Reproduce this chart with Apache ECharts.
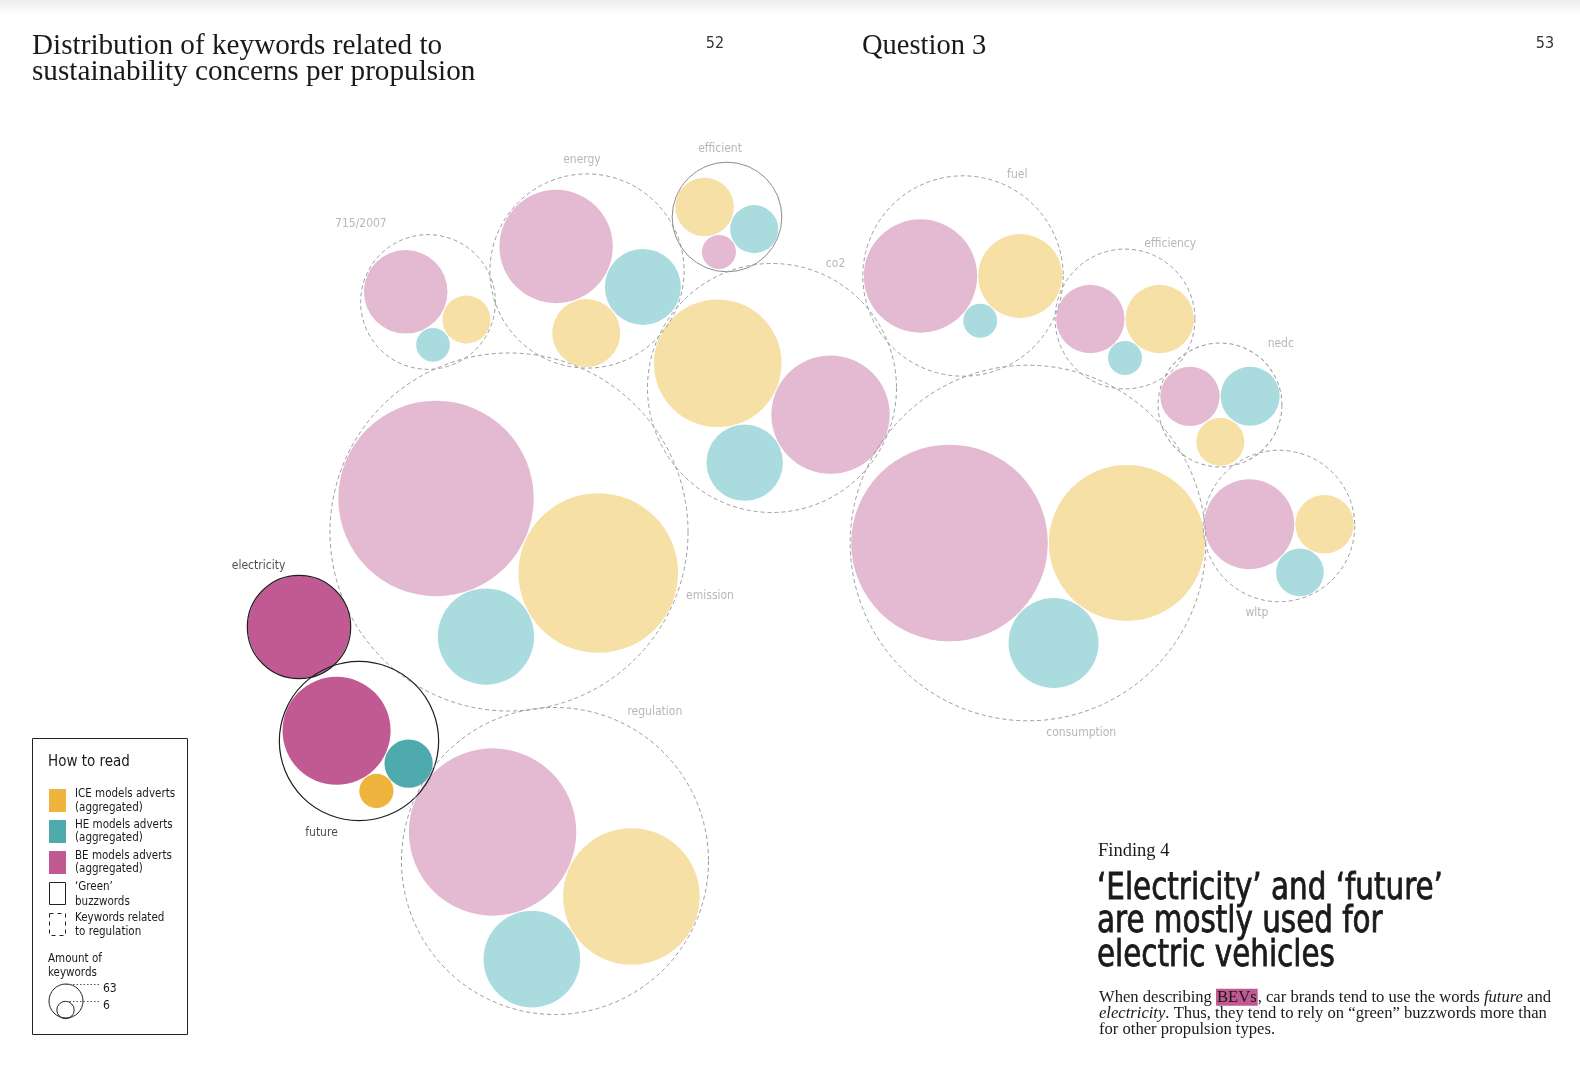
<!DOCTYPE html>
<html><head><meta charset="utf-8">
<script src="https://cdn.jsdelivr.net/npm/echarts/dist/echarts.min.js"></script>
<style>html,body{margin:0;padding:0;background:#fff}#c{width:1580px;height:1074px}</style>
</head><body><div id="c"></div>
<script>
// ---------------- DATA ----------------
const keywords = ['715/2007','energy','efficient','co2','fuel','efficiency','nedc','emission','consumption','wltp','electricity','future','regulation'];
const iceValues = [126, 252, 187, 888, 385, 255, 126, 1389, 1326, 186, 0, 64, 1017];
const heValues  = [62, 315, 126, 318, 63, 63, 190, 506, 441, 124, 0, 127, 509];
const beValues  = [381, 700, 63, 763, 700, 255, 192, 2081, 2107, 441, 571, 636, 1527];
const greenBuzzwords = ['efficient','electricity','future'];
const highlightedKeywords = ['electricity','future'];
const legendAmounts = ['63','6'];

// ---------------- LAYOUT (not data) ----------------
// [centerX, centerY, angle A->B (deg), side of third circle, label angle (deg), label gap]
const groupLayout = {
  '715/2007':  [428, 302, 24.6, 1, -130.5, 36],
  energy:      [587, 271, 70.8, -1, -92.6, 14],
  efficient:   [727, 217, -107.7, 1, -95.8, 14],
  co2:         [772, 388, -155.5, -1, -62.9, 15],
  fuel:        [963, 276, 0, 1, -61.9, 15],
  efficiency:  [1125, 319, 0, 1, -59, 18],
  nedc:        [1220, 405, 56.3, -1, -45, 24],
  emission:    [509, 532, 24.7, 1, 17.7, 32],
  consumption: [1028, 543, 0, 1, 74.3, 19],
  wltp:        [1279, 526, 0, 1, 104.3, 14],
  electricity: [299, 627, 0, 1, -123.3, 22],
  future:      [359, 741, 56.5, -1, 112.1, 20],
  regulation:  [555, 861, 24.9, 1, -56.2, 26]
};

const K = 17 / Math.sqrt(63);   // px per sqrt(keyword)
const PAD = 1;
const rOf = v => K * Math.sqrt(v);

const pastel = { be: '#e4bad3', ice: '#f7e0a6', he: '#aadcdf' };
const strong = { be: '#c15a93', ice: '#efb43e', he: '#4faaae' };

function enclose(kids) {
  let cx = 0, cy = 0;
  kids.forEach(k => { cx += k.x; cy += k.y; });
  cx /= kids.length; cy /= kids.length;
  if (kids.length === 1) return { x: kids[0].x, y: kids[0].y, r: kids[0].r };
  const T = 60000;
  for (let t = 1; t <= T; t++) {
    let best = null, bd = -1;
    for (const k of kids) {
      const d = Math.hypot(k.x - cx, k.y - cy) + k.r;
      if (d > bd) { bd = d; best = k; }
    }
    const dx = best.x - cx, dy = best.y - cy, L = Math.hypot(dx, dy) || 1;
    const px = best.x + best.r * dx / L, py = best.y + best.r * dy / L;
    cx += (px - cx) / (t + 1); cy += (py - cy) / (t + 1);
  }
  let R = 0;
  for (const k of kids) R = Math.max(R, Math.hypot(k.x - cx, k.y - cy) + k.r);
  return { x: cx, y: cy, r: R };
}

const groups = keywords.map((name, i) => {
  const L = groupLayout[name];
  const kids = [
    { k: 'be', v: beValues[i] },
    { k: 'ice', v: iceValues[i] },
    { k: 'he', v: heValues[i] }
  ].filter(d => d.v > 0);
  kids.forEach(d => { d.r = rOf(d.v); d.x = 0; d.y = 0; });
  if (kids[1]) kids[1].x = kids[0].r + kids[1].r + PAD;
  if (kids[2]) {
    const a = kids[0].r + kids[2].r + PAD, b = kids[1].r + kids[2].r + PAD, d = kids[1].x;
    const x = (a * a - b * b + d * d) / (2 * d);
    kids[2].x = x; kids[2].y = L[3] * Math.sqrt(Math.max(0, a * a - x * x));
  }
  const th = L[2] * Math.PI / 180, c = Math.cos(th), s = Math.sin(th);
  kids.forEach(d => { const x = d.x, y = d.y; d.x = x * c - y * s; d.y = x * s + y * c; });
  const e = enclose(kids);
  kids.forEach(d => { d.x = d.x - e.x + L[0]; d.y = d.y - e.y + L[1]; });
  const R = e.r + (kids.length > 1 ? 1 : 0.5);
  const la = L[4] * Math.PI / 180;
  return {
    name, kids, cx: L[0], cy: L[1], R,
    green: greenBuzzwords.includes(name),
    highlight: highlightedKeywords.includes(name),
    lx: L[0] + (R + L[5]) * Math.cos(la), ly: L[1] + (R + L[5]) * Math.sin(la)
  };
});

const NARROW = "'Liberation Sans Narrow','DejaVu Sans Condensed','Roboto Condensed',Roboto,sans-serif";
const SERIF = "'Liberation Serif','DejaVu Serif',serif";

function bubbleSeries(seriesName, key) {
  return {
    type: 'scatter', name: seriesName, silent: true, z: 2, symbol: 'circle',
    emphasis: { disabled: true },
    symbolSize: v => 2 * rOf(v[2]),
    data: groups.flatMap(g => g.kids.filter(c => c.k === key).map(c => ({
      name: g.name, value: [c.x, c.y, c.v],
      itemStyle: { color: g.highlight ? strong[key] : pastel[key], opacity: 1 }
    })))
  };
}

const option = {
  animation: false,
  backgroundColor: '#ffffff',
  grid: { left: 0, right: 0, top: 0, bottom: 0 },
  xAxis: { type: 'value', min: 0, max: 1580, show: false },
  yAxis: { type: 'value', min: 0, max: 1074, inverse: true, show: false },
  series: [
    bubbleSeries('BE models adverts', 'be'),
    bubbleSeries('ICE models adverts', 'ice'),
    bubbleSeries('HE models adverts', 'he'),
    {
      type: 'scatter', name: 'groups', silent: true, z: 3, symbol: 'circle',
      emphasis: { disabled: true },
      symbolSize: v => 2 * v[2],
      data: groups.map(g => ({
        name: g.name, value: [g.cx, g.cy, g.R],
        itemStyle: {
          color: 'rgba(0,0,0,0)', opacity: 1,
          borderColor: g.highlight ? '#1e1e1e' : (g.green ? '#8c8c8c' : '#9c9c9c'),
          borderWidth: g.highlight ? 1.2 : 1,
          borderType: g.green ? 'solid' : [4, 3]
        }
      }))
    },
    {
      type: 'scatter', name: 'labels', silent: true, z: 4, symbol: 'circle', symbolSize: 1,
      emphasis: { disabled: true },
      itemStyle: { color: 'rgba(0,0,0,0)' },
      data: groups.map(g => ({
        name: g.name, value: [g.lx, g.ly],
        label: {
          show: true, position: 'inside', formatter: '{b}',
          fontFamily: NARROW, fontSize: 12,
          color: g.highlight ? '#1e1e1e' : '#a5a5a5'
        }
      }))
    }
  ],
  graphic: [
    { type: 'rect', silent: true, shape: { x: 0, y: 0, width: 1580, height: 14 },
      style: { fill: new echarts.graphic.LinearGradient(0, 0, 0, 1, [
        { offset: 0, color: 'rgba(0,0,0,0.07)' }, { offset: 1, color: 'rgba(0,0,0,0)' }]) } },
    { type: 'text', x: 32, y: 33, silent: true,
      style: { text: 'Distribution of keywords related to\nsustainability concerns per propulsion',
        font: "29.2px " + SERIF, lineHeight: 26.5, fill: '#1a1a1a' } },
    { type: 'text', x: 715, y: 44, silent: true,
      style: { text: '52', font: "16px " + NARROW, fill: '#333', align: 'center', verticalAlign: 'middle' } },
    { type: 'text', x: 862, y: 47, silent: true,
      style: { text: 'Question 3', font: "28.5px " + SERIF, fill: '#1a1a1a', verticalAlign: 'middle' } },
    { type: 'text', x: 1545, y: 44, silent: true,
      style: { text: '53', font: "16px " + NARROW, fill: '#333', align: 'center', verticalAlign: 'middle' } },

    // how to read box
    { type: 'rect', silent: true, shape: { x: 32.5, y: 738.5, width: 155, height: 296 },
      style: { fill: '#fff', stroke: '#222', lineWidth: 1 } },
    { type: 'text', x: 48, y: 762, silent: true,
      style: { text: 'How to read', font: "15px " + NARROW, fill: '#1a1a1a', verticalAlign: 'middle' } },
    { type: 'rect', silent: true, shape: { x: 49, y: 789, width: 17, height: 23 }, style: { fill: strong.ice } },
    { type: 'rect', silent: true, shape: { x: 49, y: 820, width: 17, height: 23 }, style: { fill: strong.he } },
    { type: 'rect', silent: true, shape: { x: 49, y: 851, width: 17, height: 23 }, style: { fill: strong.be } },
    { type: 'rect', silent: true, shape: { x: 49.5, y: 882.5, width: 16, height: 22 }, style: { fill: '#fff', stroke: '#222', lineWidth: 1 } },
    { type: 'rect', silent: true, shape: { x: 49.5, y: 913.5, width: 16, height: 22 }, style: { fill: '#fff', stroke: '#222', lineWidth: 1, lineDash: [4, 4] } },
    { type: 'text', x: 75, y: 787, silent: true,
      style: { text: 'ICE models adverts\n(aggregated)', font: "11.5px " + NARROW, lineHeight: 14, fill: '#1a1a1a' } },
    { type: 'text', x: 75, y: 818, silent: true,
      style: { text: 'HE models adverts\n(aggregated)', font: "11.5px " + NARROW, lineHeight: 13.5, fill: '#1a1a1a' } },
    { type: 'text', x: 75, y: 849, silent: true,
      style: { text: 'BE models adverts\n(aggregated)', font: "11.5px " + NARROW, lineHeight: 13.5, fill: '#1a1a1a' } },
    { type: 'text', x: 75, y: 880, silent: true,
      style: { text: '\u2018Green\u2019\nbuzzwords', font: "11.5px " + NARROW, lineHeight: 14.5, fill: '#1a1a1a' } },
    { type: 'text', x: 75, y: 911, silent: true,
      style: { text: 'Keywords related\nto regulation', font: "11.5px " + NARROW, lineHeight: 14, fill: '#1a1a1a' } },
    { type: 'text', x: 48, y: 952, silent: true,
      style: { text: 'Amount of\nkeywords', font: "11.5px " + NARROW, lineHeight: 14, fill: '#1a1a1a' } },
    { type: 'circle', silent: true, shape: { cx: 66, cy: 1001, r: rOf(63) }, style: { fill: 'none', stroke: '#222', lineWidth: 1 } },
    { type: 'circle', silent: true, shape: { cx: 65.5, cy: 1010, r: 8.7 }, style: { fill: 'none', stroke: '#222', lineWidth: 1 } },
    { type: 'line', silent: true, shape: { x1: 66, y1: 984.5, x2: 99, y2: 984.5 }, style: { stroke: '#555', lineWidth: 1, lineDash: [1.5, 2] } },
    { type: 'line', silent: true, shape: { x1: 66, y1: 1001.5, x2: 99, y2: 1001.5 }, style: { stroke: '#555', lineWidth: 1, lineDash: [1.5, 2] } },
    { type: 'text', x: 103, y: 989, silent: true,
      style: { text: legendAmounts[0], font: "12px " + NARROW, fill: '#1a1a1a', verticalAlign: 'middle' } },
    { type: 'text', x: 103, y: 1006, silent: true,
      style: { text: legendAmounts[1], font: "12px " + NARROW, fill: '#1a1a1a', verticalAlign: 'middle' } },

    // finding
    { type: 'text', x: 1098, y: 851, silent: true,
      style: { text: 'Finding 4', font: "18.5px " + SERIF, fill: '#1a1a1a', verticalAlign: 'middle' } },
    { type: 'text', x: 1097, y: 872, scaleX: 0.86, silent: true,
      style: { text: '\u2018Electricity\u2019 and \u2018future\u2019\nare mostly used for\nelectric vehicles',
        font: "38px " + NARROW, lineHeight: 33.5, fill: '#1a1a1a',
        stroke: '#1a1a1a', lineWidth: 0.8 } },
    { type: 'text', x: 1099, y: 989, silent: true,
      style: {
        text: 'When describing {h|BEVs}, car brands tend to use the words {i|future} and\n{i|electricity}. Thus, they tend to rely on \u201Cgreen\u201D buzzwords more than\nfor other propulsion types.',
        font: "16.6px " + SERIF, lineHeight: 16.4, fill: '#1a1a1a',
        rich: {
          h: { backgroundColor: '#c15a93', fill: '#1a1a1a', font: "16.6px " + SERIF, lineHeight: 16.4, padding: [0, 1, 0, 1] },
          i: { font: "italic 16.6px " + SERIF, fill: '#1a1a1a', lineHeight: 16.4 }
        }
      } }
  ]
};

const chart = echarts.init(document.getElementById('c'), null, { renderer: 'canvas' });
chart.setOption(option);
</script>
</body></html>
